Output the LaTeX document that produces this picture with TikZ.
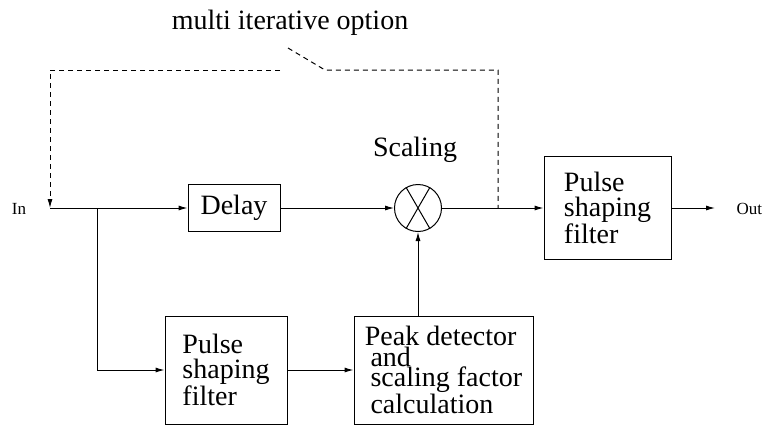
\documentclass[tikz,border=0pt]{standalone}
\usepackage{fontspec}
\setmainfont{Liberation Serif}
\usetikzlibrary{arrows.meta}
\begin{document}
\begin{tikzpicture}[x=1pt,y=-1pt,
  line width=1pt,
  >={Latex[length=9pt,width=5pt]},
  box/.style={draw, inner sep=0pt, align=left, font=\fontsize{28}{25}\selectfont},
  tightbox/.style={box, font=\fontsize{28}{20.5}\selectfont},
  lbl/.style={font=\fontsize{28}{30}\selectfont, inner sep=0pt, anchor=base},
  small/.style={font=\fontsize{17}{19}\selectfont, inner sep=0pt, anchor=base},
  dsh/.style={dash pattern=on 5pt off 4pt}]
\useasboundingbox (0,0) rectangle (766,426);

% blocks
\node[box, minimum width=92, minimum height=47] (delay) at (234,208) {Delay};
\node[draw, circle, minimum size=47, inner sep=0pt] (mult) at (418,208) {};
\draw (mult.60) -- (mult.240);
\draw (mult.120) -- (mult.300);
\node[box, minimum width=127, minimum height=103] (psf2) at (607.5,208) {Pulse\\shaping\\filter};
\node[box, minimum width=122, minimum height=108] (psf1) at (226,370) {Pulse\\shaping\\filter};
\node[tightbox, minimum width=179, minimum height=108] (peak) at (443.5,370)
  {Peak detector\\\hspace*{0.2em}and\\\hspace*{0.2em}scaling factor\\\hspace*{0.2em}calculation};

% labels
\node[lbl] (scal) at (415,156) {Scaling};
\node[lbl] (multi) at (290,29) {multi iterative option};
\node[small] (in) at (19,214) {In};
\node[small, anchor=base west] (out) at (736,214) {Out};

% coordinates
\coordinate (inS) at (50,208);
\coordinate (br) at (97,208);
\coordinate (tap) at (498,208);
\coordinate (outE) at (715,208);
\coordinate (swA) at (325,70);
\coordinate (swB) at (288,48);
\coordinate (swC) at (280,70);
\coordinate (lc) at (50,70);

% connectors
\draw[->] (inS) -- (delay.west);
\draw[->] (delay.east) -- (mult.west);
\draw[->] (mult.east) -- (psf2.west);
\draw[->] (psf2.east) -- (outE);
\draw[->] (br) |- (psf1.west);
\draw[->] (psf1.east) -- (peak.west);
\draw[->] (peak.north -| mult.south) -- (mult.south);

% dashed feedback
\draw[dsh] (swB) -- (swA) -| (tap);
\draw[dsh,->] (swC) -- (lc) -- (inS);
\end{tikzpicture}
\end{document}
